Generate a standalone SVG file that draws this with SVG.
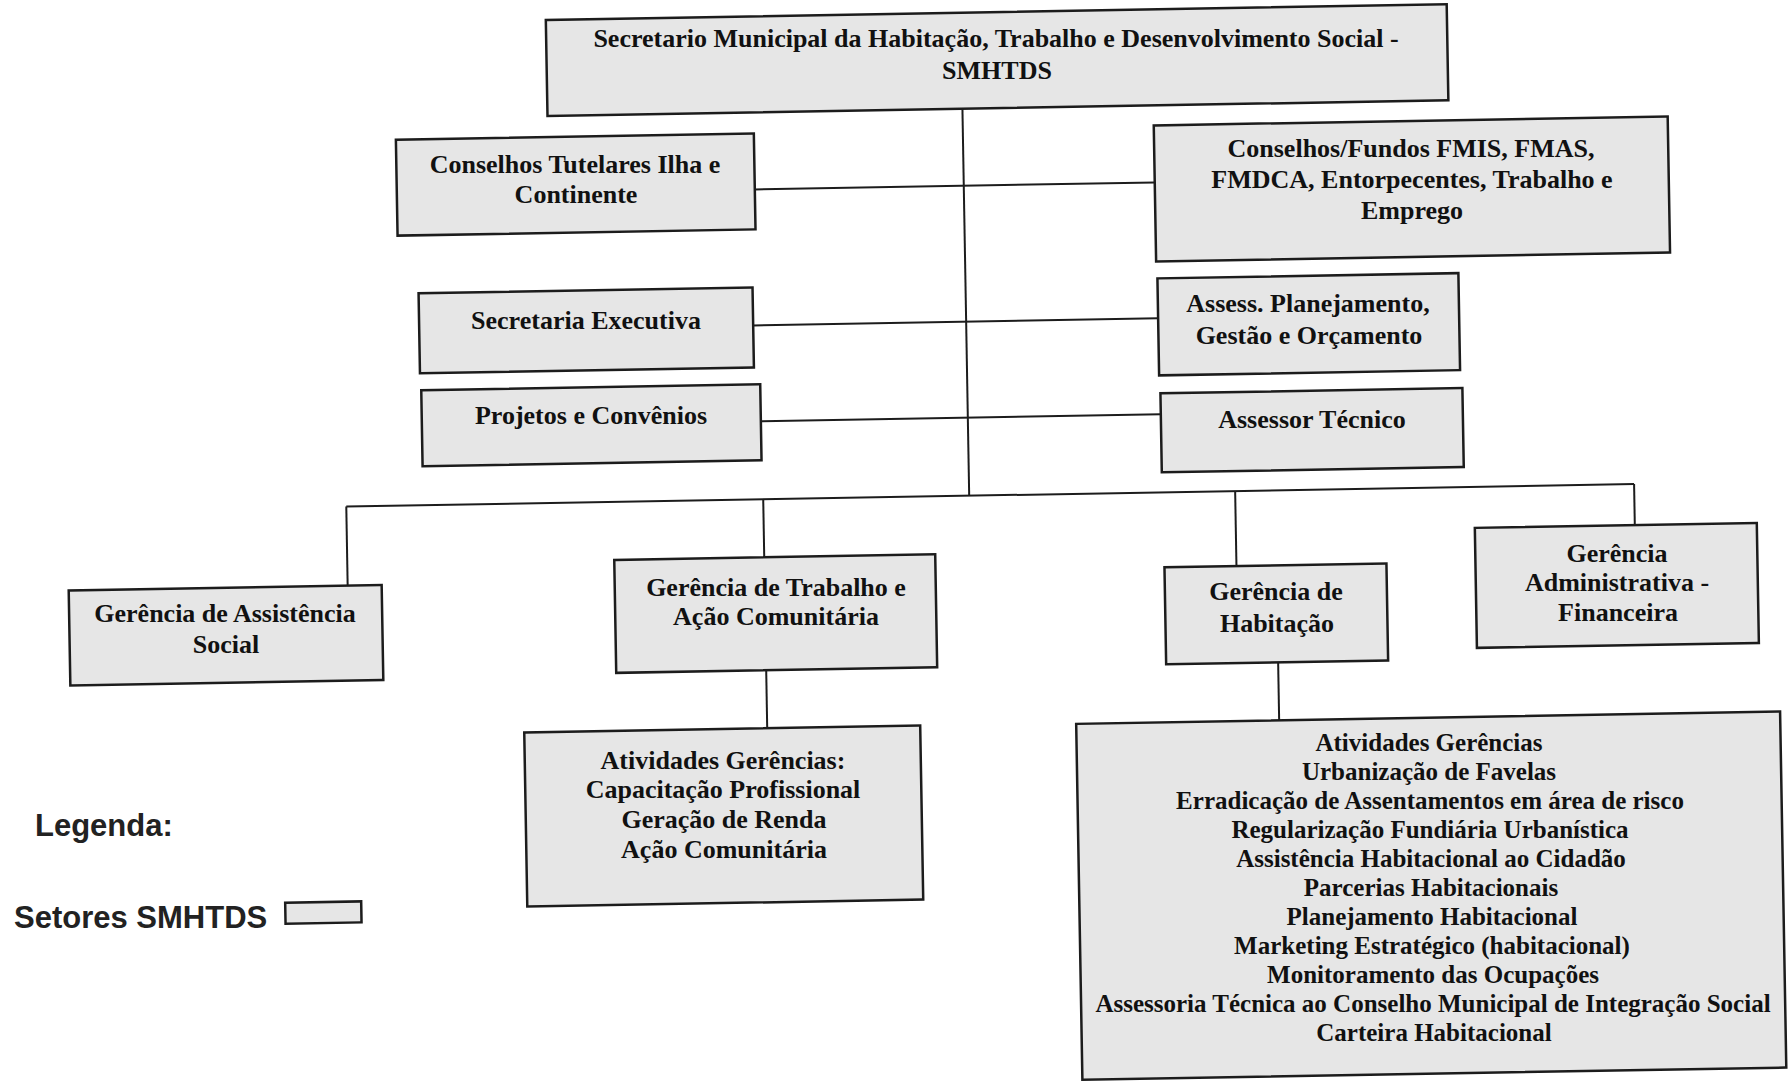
<svg xmlns="http://www.w3.org/2000/svg" width="1790" height="1086" viewBox="0 0 1790 1086">
<style>
  .box { fill: #e6e6e6; stroke: #1c1c1c; stroke-width: 2.5; }
  .t { font-family: "Liberation Serif", "Times New Roman", serif; font-weight: bold; font-size: 26px; fill: #111; text-anchor: middle; }
  .ts { font-size: 25px; }
  .conn { stroke: #1c1c1c; stroke-width: 2; fill: none; }
  .leg { font-family: "Liberation Sans", Arial, sans-serif; font-weight: bold; font-size: 31px; fill: #222; }
</style>
<rect x="0" y="0" width="1790" height="1086" fill="#ffffff"/>
<g id="connectors" transform="rotate(-1 895 543)">
  <line class="conn" x1="970" y1="110" x2="970" y2="497"/>
  <line class="conn" x1="761" y1="187" x2="1161" y2="187"/>
  <line class="conn" x1="757" y1="323" x2="1162" y2="323"/>
  <line class="conn" x1="763" y1="419" x2="1163" y2="419"/>
  <line class="conn" x1="347" y1="497" x2="1635" y2="497"/>
  <line class="conn" x1="347" y1="497" x2="347" y2="576"/>
  <line class="conn" x1="764" y1="497" x2="764" y2="555"/>
  <line class="conn" x1="1236" y1="497" x2="1236" y2="572"/>
  <line class="conn" x1="1635" y1="497" x2="1635" y2="538"/>
  <line class="conn" x1="764" y1="668" x2="764" y2="726"/>
  <line class="conn" x1="1276" y1="669" x2="1276" y2="727"/>
</g>
<g id="secretario">
  <rect class="box" x="555" y="14" width="901" height="96" transform="rotate(-1 895 543)"/>
  <text class="t" x="996" y="47">Secretario Municipal da Habitação, Trabalho e Desenvolvimento Social -</text>
  <text class="t" x="997" y="79">SMHTDS</text>
</g>
<g id="conselhos-tutelares">
  <rect class="box" x="403" y="131" width="358" height="96" transform="rotate(-1 895 543)"/>
  <text class="t" x="575" y="173">Conselhos Tutelares Ilha e</text>
  <text class="t" x="576" y="203">Continente</text>
</g>
<g id="conselhos-fundos">
  <rect class="box" x="1161" y="130" width="514" height="136" transform="rotate(-1 895 543)"/>
  <text class="t" x="1411" y="157">Conselhos/Fundos FMIS, FMAS,</text>
  <text class="t" x="1412" y="188">FMDCA, Entorpecentes, Trabalho e</text>
  <text class="t" x="1412" y="219">Emprego</text>
</g>
<g id="secretaria-executiva">
  <rect class="box" x="423" y="285" width="334" height="80" transform="rotate(-1 895 543)"/>
  <text class="t" x="586" y="329">Secretaria Executiva</text>
</g>
<g id="assess-planejamento">
  <rect class="box" x="1162" y="283" width="301" height="97" transform="rotate(-1 895 543)"/>
  <text class="t" x="1308" y="312">Assess. Planejamento,</text>
  <text class="t" x="1309" y="344">Gestão e Orçamento</text>
</g>
<g id="projetos-convenios">
  <rect class="box" x="424" y="382" width="339" height="76" transform="rotate(-1 895 543)"/>
  <text class="t" x="591" y="424">Projetos e Convênios</text>
</g>
<g id="assessor-tecnico">
  <rect class="box" x="1163" y="398" width="302" height="79" transform="rotate(-1 895 543)"/>
  <text class="t" x="1312" y="428">Assessor Técnico</text>
</g>
<g id="gerencia-assistencia">
  <rect class="box" x="68" y="576" width="313" height="95" transform="rotate(-1 895 543)"/>
  <text class="t" x="225" y="622">Gerência de Assistência</text>
  <text class="t" x="226" y="653">Social</text>
</g>
<g id="gerencia-trabalho">
  <rect class="box" x="614" y="555" width="321" height="113" transform="rotate(-1 895 543)"/>
  <text class="t" x="776" y="596">Gerência de Trabalho e</text>
  <text class="t" x="776" y="625">Ação Comunitária</text>
</g>
<g id="gerencia-habitacao">
  <rect class="box" x="1164" y="572" width="222" height="97" transform="rotate(-1 895 543)"/>
  <text class="t" x="1276" y="600">Gerência de</text>
  <text class="t" x="1277" y="632">Habitação</text>
</g>
<g id="gerencia-administrativa">
  <rect class="box" x="1475" y="538" width="282" height="120" transform="rotate(-1 895 543)"/>
  <text class="t" x="1617" y="562">Gerência</text>
  <text class="t" x="1617" y="591">Administrativa -</text>
  <text class="t" x="1618" y="621">Financeira</text>
</g>
<g id="atividades-trabalho">
  <rect class="box" x="521" y="726" width="396" height="174" transform="rotate(-1 895 543)"/>
  <text class="t" x="723" y="769">Atividades Gerências:</text>
  <text class="t" x="723" y="798">Capacitação Profissional</text>
  <text class="t" x="724" y="828">Geração de Renda</text>
  <text class="t" x="724" y="858">Ação Comunitária</text>
</g>
<g id="atividades-habitacao">
  <rect class="box" x="1073" y="727" width="704" height="356" transform="rotate(-1 895 543)"/>
  <text class="t ts" x="1429" y="751">Atividades Gerências</text>
  <text class="t ts" x="1429" y="780">Urbanização de Favelas</text>
  <text class="t ts" x="1430" y="809">Erradicação de Assentamentos em área de risco</text>
  <text class="t ts" x="1430" y="838">Regularização Fundiária Urbanística</text>
  <text class="t ts" x="1431" y="867">Assistência Habitacional ao Cidadão</text>
  <text class="t ts" x="1431" y="896">Parcerias Habitacionais</text>
  <text class="t ts" x="1432" y="925">Planejamento Habitacional</text>
  <text class="t ts" x="1432" y="954">Marketing Estratégico (habitacional)</text>
  <text class="t ts" x="1433" y="983">Monitoramento das Ocupações</text>
  <text class="t ts" x="1433" y="1012">Assessoria Técnica ao Conselho Municipal de Integração Social</text>
  <text class="t ts" x="1434" y="1041">Carteira Habitacional</text>
</g>
<g id="legenda">
  <text class="leg" x="35" y="836">Legenda:</text>
  <text class="leg" x="14" y="928">Setores SMHTDS</text>
  <rect class="box" x="279" y="892" width="76" height="21" stroke-width="2" transform="rotate(-1 895 543)"/>
</g>
</svg>
